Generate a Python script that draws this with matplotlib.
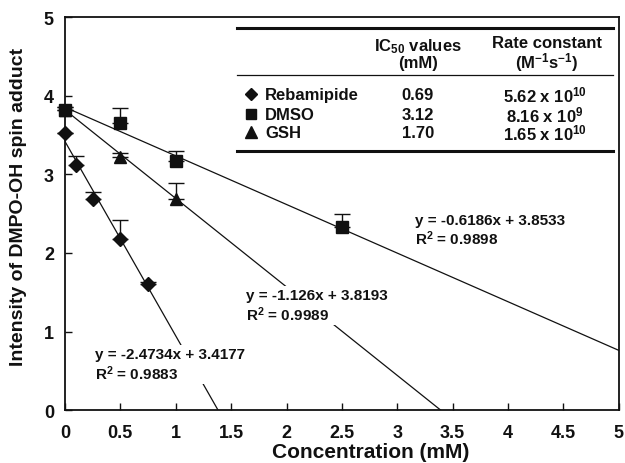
import numpy as np
import matplotlib
matplotlib.use("Agg")
import matplotlib.pyplot as plt

plt.rcParams['font.family'] = ['Liberation Sans', 'DejaVu Sans']
plt.rcParams['font.weight'] = 'bold'
plt.rcParams['mathtext.fontset'] = 'custom'
plt.rcParams['mathtext.rm'] = 'Liberation Sans:bold'
plt.rcParams['mathtext.bf'] = 'Liberation Sans:bold'
plt.rcParams['mathtext.it'] = 'Liberation Sans:bold'
plt.rcParams['mathtext.default'] = 'rm'

# ---- data ----
reb_x = [0, 0.1, 0.25, 0.5, 0.75]
reb_y = [3.52, 3.12, 2.68, 2.18, 1.60]
reb_err = [0.0, 0.11, 0.09, 0.24, 0.03]

dmso_x = [0, 0.5, 1, 2.5]
dmso_y = [3.82, 3.65, 3.17, 2.33]
dmso_err = [0.03, 0.19, 0.13, 0.17]

gsh_x = [0, 0.5, 1]
gsh_y = [3.82, 3.22, 2.68]
gsh_err = [0.03, 0.05, 0.21]

fits = {  # slope, intercept, R2
    'Rebamipide': (-2.4734, 3.4177, 0.9883),
    'DMSO': (-0.6186, 3.8533, 0.9898),
    'GSH': (-1.126, 3.8193, 0.9989),
}
eq_labels = {
    'Rebamipide': 'y = -2.4734x + 3.4177',
    'DMSO': 'y = -0.6186x + 3.8533',
    'GSH': 'y = -1.126x + 3.8193',
}
r2_labels = {
    'Rebamipide': 'R$^2$ = 0.9883',
    'DMSO': 'R$^2$ = 0.9898',
    'GSH': 'R$^2$ = 0.9989',
}
eq_pos = {'Rebamipide': (0.27, 0.58), 'GSH': (1.63, 1.33), 'DMSO': (3.16, 2.29)}

names = ['Rebamipide', 'DMSO', 'GSH']
ic50 = ['0.69', '3.12', '1.70']
rate = ['5.62 x 10$^{10}$', '8.16 x 10$^{9}$', '1.65 x 10$^{10}$']
headers = ['IC$_{50}$ values\n(mM)', 'Rate constant\n(M$^{-1}$s$^{-1}$)']
markers = {'Rebamipide': 'D', 'DMSO': 's', 'GSH': '^'}
msizes = {'Rebamipide': 7, 'DMSO': 8, 'GSH': 9}

xticks = [0, 0.5, 1, 1.5, 2, 2.5, 3, 3.5, 4, 4.5, 5]
xticklabels = ['0', '0.5', '1', '1.5', '2', '2.5', '3', '3.5', '4', '4.5', '5']
yticks = [0, 1, 2, 3, 4, 5]

fig = plt.figure(figsize=(6.25, 4.64), dpi=100)
ax = fig.add_axes([0.104, 0.114, 0.886, 0.847])
ax.set_xlim(0, 5)
ax.set_ylim(0, 5)

col = '#111111'
# fit lines
for n in names:
    m, b, r2 = fits[n]
    x_end = min(5, -b / m)
    xs = np.array([0, x_end])
    ax.plot(xs, m * xs + b, color=col, lw=0.9, zorder=2)

series = {'Rebamipide': (reb_x, reb_y, reb_err),
          'DMSO': (dmso_x, dmso_y, dmso_err),
          'GSH': (gsh_x, gsh_y, gsh_err)}
for n in names:
    x, y, e = series[n]
    ax.errorbar(x, y, yerr=[np.zeros(len(e)), e], fmt=markers[n], color=col,
                ms=msizes[n], ecolor=col, elinewidth=1.0, capsize=6, capthick=1.0,
                zorder=4, clip_on=False)

for n in names:
    xp, yp = eq_pos[n]
    ax.text(xp, yp, eq_labels[n] + '\n' + r2_labels[n], fontsize=11, fontweight='bold',
            color=col, va='center', ha='left', linespacing=1.1, zorder=3,
            bbox=dict(facecolor='white', edgecolor='none', pad=1.5))

# table (axes fraction coordinates)
tr = ax.transAxes
fs_t = 12
ax.plot([0.31, 0.989], [0.972, 0.972], color=col, lw=2.2, transform=tr)
ax.plot([0.31, 0.989], [0.852, 0.852], color=col, lw=0.9, transform=tr)
ax.plot([0.31, 0.989], [0.659, 0.659], color=col, lw=2.2, transform=tr)
for hx, h in zip([0.637, 0.870], headers):
    ax.text(hx, 0.907, h, transform=tr, ha='center', va='center', fontsize=fs_t,
            color=col, linespacing=1.0, multialignment='center')
row_y = [0.804, 0.753, 0.707]
for n, ic, rt, ry in zip(names, ic50, rate, row_y):
    ax.plot([0.336], [ry], marker=markers[n], color=col, ms=msizes[n] - 1, transform=tr, ls='none')
    ax.text(0.361, ry, n, transform=tr, ha='left', va='center', fontsize=fs_t, color=col)
    ax.text(0.637, ry, ic, transform=tr, ha='center', va='center', fontsize=fs_t, color=col)
    ax.text(0.866, ry, rt, transform=tr, ha='center', va='center', fontsize=fs_t, color=col)

ax.set_xticks(xticks)
ax.set_xticklabels(xticklabels)
ax.set_yticks(yticks)
ax.tick_params(direction='in', length=5, width=1.0, labelsize=13, colors=col)
ax.tick_params(axis='x', pad=10)
ax.tick_params(axis='y', pad=8)
for lab in ax.get_xticklabels() + ax.get_yticklabels():
    lab.set_fontweight('bold')
for s in ax.spines.values():
    s.set_linewidth(1.3)
    s.set_color(col)

ax.set_xlabel('Concentration (mM)', fontsize=15, fontweight='bold', color=col)
ax.set_ylabel('Intensity of DMPO-OH spin adduct', fontsize=14, fontweight='bold', color=col)
ax.xaxis.set_label_coords(0.552, -0.080)
ax.yaxis.set_label_coords(-0.068, 0.519)

fig.savefig('out.png', dpi=100)
